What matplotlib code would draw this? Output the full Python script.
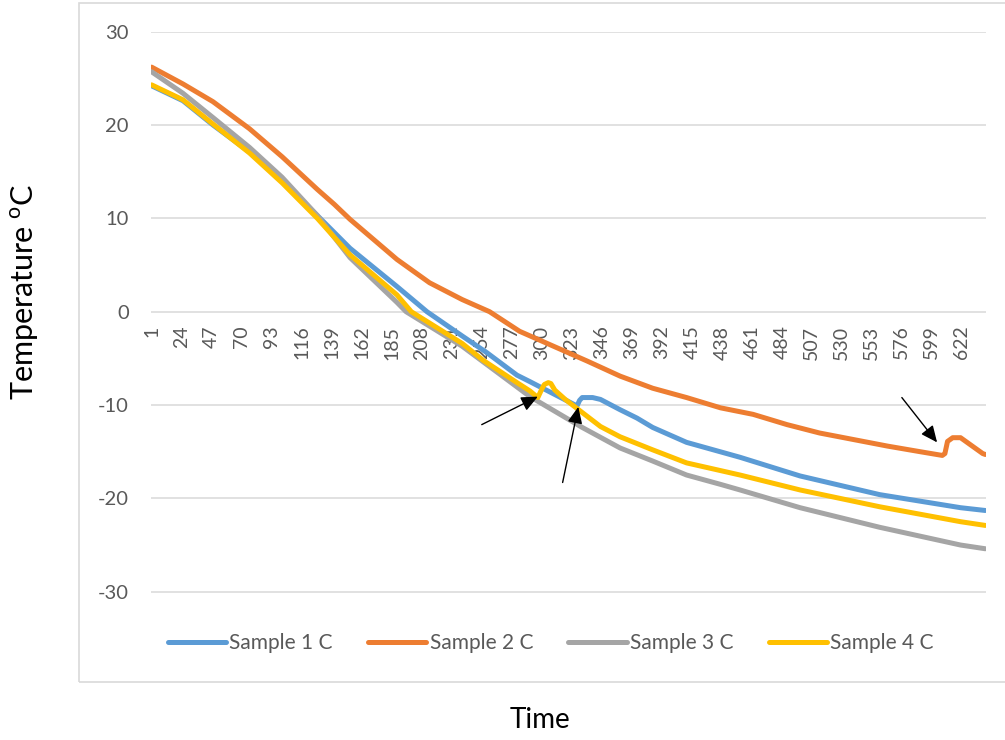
import numpy as np
import matplotlib
matplotlib.use("Agg")
import matplotlib.pyplot as plt
from matplotlib.patches import Rectangle
from matplotlib.lines import Line2D

plt.rcParams['font.family'] = ['Lato', 'DejaVu Sans']
plt.rcParams['mathtext.fontset'] = 'custom'
plt.rcParams['mathtext.rm'] = 'Lato'
plt.rcParams['axes.unicode_minus'] = False

n_points = 640

# readings (time index, temperature) taken off the chart
s1_t = [1, 25, 48, 76, 101, 128, 153, 189, 212, 239, 258, 281, 291, 327, 329, 331, 339, 345,
        360, 373, 385, 411, 452, 498, 559, 621, 640]
s1_v = [24.2, 22.6, 20.0, 17.1, 14.0, 10.3, 6.8, 2.7, 0.0, -2.6, -4.4, -6.8, -7.5, -10.1, -9.5, -9.2,
        -9.2, -9.4, -10.5, -11.4, -12.4, -14.0, -15.6, -17.6, -19.6, -21.0, -21.3]

s2_t = [1, 25, 48, 76, 101, 128, 141, 153, 189, 214, 239, 260, 283, 309, 335, 360, 385, 411, 437,
        462, 488, 513, 539, 565, 590, 607, 609, 611, 615, 621, 628, 638, 640]
s2_v = [26.2, 24.4, 22.5, 19.6, 16.6, 13.1, 11.5, 9.9, 5.6, 3.1, 1.3, 0.0, -2.1, -3.7, -5.3, -6.9,
        -8.2, -9.2, -10.3, -11.0, -12.1, -13.0, -13.7, -14.4, -15.0, -15.4, -15.2, -13.9, -13.5,
        -13.5, -14.2, -15.2, -15.3]

s3_t = [1, 25, 48, 76, 101, 128, 153, 189, 196, 239, 291, 331, 360, 385, 411, 437, 452, 498,
        559, 621, 640]
s3_v = [25.7, 23.4, 20.8, 17.6, 14.4, 10.3, 5.8, 1.0, 0.0, -3.7, -9.1, -12.4, -14.6, -16.0, -17.5,
        -18.5, -19.1, -21.0, -23.1, -25.0, -25.4]

s4_t = [1, 25, 48, 76, 101, 128, 153, 189, 200, 239, 255, 281, 291, 297, 300, 302, 305, 307,
        310, 318, 331, 345, 360, 385, 411, 452, 498, 559, 621, 640]
s4_v = [24.3, 22.7, 20.1, 17.0, 13.8, 10.0, 6.1, 1.8, 0.0, -3.4, -5.2, -7.6, -8.5, -9.2, -8.3, -7.8,
        -7.6, -7.7, -8.4, -9.4, -10.8, -12.3, -13.4, -14.8, -16.2, -17.5, -19.1, -20.9, -22.5, -22.9]

series_names = ['Sample 1 C', 'Sample 2 C', 'Sample 3 C', 'Sample 4 C']
series_colors = ['#5B9BD5', '#ED7D31', '#A5A5A5', '#FFC000']

x_ticks = list(range(1, 623, 23))
y_ticks = [-30, -20, -10, 0, 10, 20, 30]

# arrows: (tail, tip) in data coordinates
arrows = [((254, -12.1), (297, -9.1)),
          ((316, -18.3), (328, -10.2)),
          ((576, -9.2), (603, -14.0))]

fig = plt.figure(figsize=(10.05, 7.4), dpi=100)
fig.add_artist(Rectangle((79 / 1005, 1 - 682 / 740), 1.0, 679 / 740, transform=fig.transFigure,
                         fill=False, ec='#D9D9D9', lw=1.2))

ax = fig.add_axes([151 / 1005, 0.0995, 835 / 1005, 0.8577])

all_t = [s1_t, s2_t, s3_t, s4_t]
all_v = [s1_v, s2_v, s3_v, s4_v]
for t, v, c in zip(all_t, all_v, series_colors):
    ax.plot(t, v, color=c, lw=3.6, solid_capstyle='round', solid_joinstyle='round', zorder=3)

for tail, tip in arrows:
    ax.annotate('', xy=tip, xytext=tail,
                arrowprops=dict(arrowstyle='-|>,head_length=1.0,head_width=0.45',
                                mutation_scale=10, color='black', lw=1.0,
                                shrinkA=0, shrinkB=0), zorder=5)

ax.set_xlim(0.5, n_points + 0.5)
ax.set_ylim(-38, 30)
ax.set_yticks(y_ticks)
ax.set_yticklabels([str(v) for v in y_ticks])
ax.set_xticks(x_ticks)
ax.set_xticklabels([str(v) for v in x_ticks])
ax.spines['bottom'].set_position(('data', 0))
for s in ax.spines.values():
    s.set_visible(False)
ax.tick_params(axis='x', length=0, pad=10, labelsize=14, labelcolor='#595959', labelrotation=90)
ax.tick_params(axis='y', length=0, pad=16, labelsize=14.5, labelcolor='#595959')
ax.yaxis.grid(True, color='#D9D9D9', lw=1.1)
ax.set_axisbelow(True)

fig.text(25 / 1005, 1 - 292 / 740, r'Temperature $^{\mathrm{o}}$C', rotation=90,
         ha='center', va='center', fontsize=22, color='black')
fig.text(540 / 1005, 1 - 720 / 740, 'Time', ha='center', va='center', fontsize=20, color='black')

handles = [Line2D([0], [0], color=c, lw=3.6, solid_capstyle='round') for c in series_colors]
leg = fig.legend(handles, series_names, ncol=4, loc='center', bbox_to_anchor=(0.548, 1 - 643 / 740),
                 frameon=False, fontsize=15, handlelength=2.8, handletextpad=0.15, columnspacing=1.7)
for txt in leg.get_texts():
    txt.set_color('#595959')

fig.savefig('out.png', dpi=100)
